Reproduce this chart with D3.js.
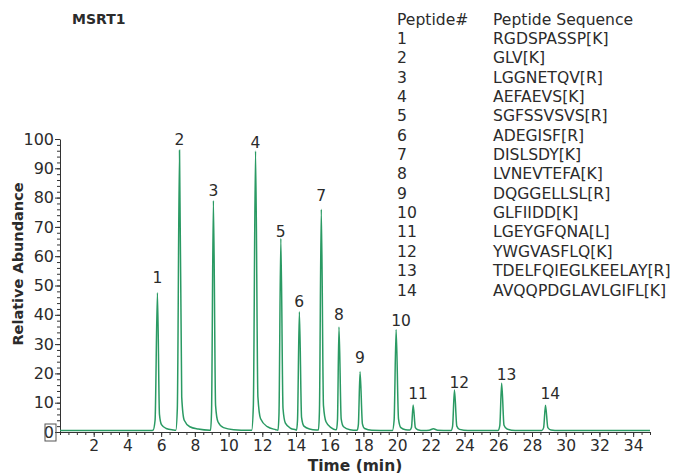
<!DOCTYPE html>
<html lang="en">
<head>
	<meta charset="UTF-8">
	<title>MSRT1</title>
	<script src="https://cdnjs.cloudflare.com/ajax/libs/d3/7.8.5/d3.min.js"></script>
	<style>
		body { margin: 0; background: #fff; }
		text { font-family: "DejaVu Sans", Verdana, sans-serif; fill: #2b2b2b; }
	</style>
</head>
<body>
	<svg id="chart" width="682" height="473"></svg>

	<script type="text/javascript">

	// Peak table (retention time in min, relative abundance at apex)
	var peakNum  = [1, 2, 3, 4, 5, 6, 7, 8, 9, 10, 11, 12, 13, 14];
	var peakTime = [5.78, 7.09, 9.1, 11.6, 13.1, 14.2, 15.5, 16.55, 17.8, 19.94, 20.95, 23.4, 26.2, 28.8];
	var peakHigh = [47.5, 96.2, 79, 95.9, 66, 41, 76, 35.8, 20.6, 35, 9.2, 14.3, 16.6, 9.1];
	var labelAt  = [50.7, 97.8, 80.7, 96.9, 66.7, 42.6, 79, 38.3, 23.4, 36.1, 11.1, 14.9, 17.9, 11.1];

	var sequences = ['RGDSPASSP[K]', 'GLV[K]', 'LGGNETQV[R]', 'AEFAEVS[K]', 'SGFSSVSVS[R]',
		'ADEGISF[R]', 'DISLSDY[K]', 'LVNEVTEFA[K]', 'DQGGELLSL[R]', 'GLFIIDD[K]',
		'LGEYGFQNA[L]', 'YWGVASFLQ[K]', 'TDELFQIEGLKEELAY[R]', 'AVQQPDGLAVLGIFL[K]'];

	// Chromatogram trace: [time, abundance]
	var trace = [
		[0, 0.5], [5.4, 0.5],
		[5.52, 0.6], [5.64, 4], [5.78, 47.5], [5.9, 6], [6.02, 2.5], [6.3, 1.2], [6.7, 0.7],
		[6.87, 0.6], [6.96, 8], [7.09, 96.2], [7.22, 12], [7.37, 4], [7.7, 1.8], [8.2, 1.0], [8.9, 0.6],
		[8.93, 0.6], [8.99, 7], [9.1, 79], [9.23, 9], [9.37, 3.5], [9.7, 1.5], [10.3, 0.8], [11.2, 0.6],
		[11.37, 0.6], [11.47, 9], [11.6, 95.9], [11.74, 12], [11.9, 4.5], [12.3, 1.8], [12.8, 0.8],
		[12.93, 0.6], [12.99, 6], [13.1, 66], [13.23, 8], [13.37, 3], [13.7, 1.2], [14.0, 0.7],
		[14.03, 0.6], [14.09, 4], [14.2, 41], [14.33, 5], [14.47, 2], [14.8, 1], [15.2, 0.7],
		[15.33, 0.7], [15.39, 7], [15.5, 76], [15.63, 9], [15.78, 3.5], [16.1, 1.4], [16.35, 0.8],
		[16.4, 0.8], [16.46, 4], [16.55, 35.8], [16.68, 4.5], [16.82, 1.8], [17.2, 0.8], [17.6, 0.6],
		[17.63, 0.6], [17.7, 2.5], [17.8, 20.6], [17.94, 2.8], [18.07, 1.2], [18.5, 0.6], [19.5, 0.5],
		[19.72, 0.5], [19.82, 4], [19.94, 35], [20.08, 4.5], [20.22, 1.5], [20.5, 0.8],
		[20.76, 0.7], [20.85, 1.5], [20.95, 9.2], [21.08, 1.5], [21.22, 0.8], [21.6, 0.5],
		[21.9, 0.6], [22.15, 1.1], [22.4, 0.6], [23.1, 0.5],
		[23.2, 0.5], [23.29, 2], [23.4, 14.3], [23.54, 2], [23.7, 0.9], [24.2, 0.5], [25.9, 0.5],
		[25.98, 0.5], [26.09, 2.2], [26.2, 16.6], [26.34, 2.3], [26.52, 1.0], [27, 0.5], [28.5, 0.5],
		[28.58, 0.5], [28.69, 1.5], [28.8, 9.1], [28.94, 1.5], [29.12, 0.7], [29.6, 0.5], [35, 0.5]
	];

	var xTicks = d3.range(2, 35, 2);
	var yTicks = d3.range(0, 101, 10);

	var lineColor = '#2a9a63';
	var axisColor = '#333';

	var svg = d3.select('#chart');

	var x = d3.scaleLinear().domain([0, 35]).range([60, 650]);
	var y = d3.scaleLinear().domain([0, 100]).range([432, 139]);

	// minor ticks
	svg.append('g')
		.attr('transform', 'translate(0,432)')
		.call(d3.axisBottom(x).tickValues(d3.range(0, 35.01, 0.5)).tickSize(3).tickFormat('').tickSizeOuter(0))
		.call(function(g) { g.select('.domain').remove(); });
	svg.append('g')
		.attr('transform', 'translate(60,0)')
		.call(d3.axisLeft(y).tickValues(d3.range(0, 101, 2)).tickSize(3).tickFormat('').tickSizeOuter(0))
		.call(function(g) { g.select('.domain').remove(); });

	// major axes
	var xAxis = svg.append('g')
		.attr('transform', 'translate(0,432)')
		.call(d3.axisBottom(x).tickValues(xTicks).tickSize(5).tickPadding(3).tickSizeOuter(0));
	var yAxis = svg.append('g')
		.attr('transform', 'translate(60,0)')
		.call(d3.axisLeft(y).tickValues(yTicks).tickSize(5).tickPadding(1).tickSizeOuter(0));

	svg.selectAll('.tick line').attr('stroke', axisColor);
	svg.selectAll('.domain').attr('stroke', axisColor);
	xAxis.selectAll('text').attr('font-size', 15.5).attr('fill', null);
	yAxis.selectAll('text').attr('font-size', 16).attr('fill', null);
	svg.selectAll('g').attr('font-family', null);

	// box round the zero label
	svg.append('rect')
		.attr('x', 45).attr('y', y(0) - 8).attr('width', 11).attr('height', 17)
		.attr('fill', 'none').attr('stroke', '#555').attr('stroke-width', 1);

	// trace
	var line = d3.line()
		.x(function(d) { return x(d[0]); })
		.y(function(d) { return y(d[1]); })
		.curve(d3.curveMonotoneX);

	svg.append('path')
		.datum(trace)
		.attr('d', line)
		.attr('fill', 'none')
		.attr('stroke', lineColor)
		.attr('stroke-width', 1.5);

	// peak labels
	svg.selectAll('.plabel')
		.data(peakNum)
		.enter()
		.append('text')
		.attr('class', 'plabel')
		.attr('x', function(d, i) { return x(peakTime[i]) - 5; })
		.attr('y', function(d, i) { return y(labelAt[i]); })
		.attr('font-size', 15.5)
		.text(function(d) { return d; });

	// titles
	svg.append('text')
		.attr('x', 72).attr('y', 24)
		.attr('font-size', 14).attr('font-weight', 'bold')
		.text('MSRT1');

	svg.append('text')
		.attr('x', 355).attr('y', 470.5)
		.attr('text-anchor', 'middle')
		.attr('font-size', 15.5).attr('font-weight', 'bold')
		.text('Time (min)');

	svg.append('text')
		.attr('transform', 'translate(23,264) rotate(-90)')
		.attr('text-anchor', 'middle')
		.attr('font-size', 14.5).attr('font-weight', 'bold')
		.text('Relative Abundance');

	// peptide table
	var rowH = 19.36;
	var table = svg.append('g').attr('font-size', 15.6);
	table.append('text').attr('x', 397).attr('y', 24.5).text('Peptide#');
	table.append('text').attr('x', 493).attr('y', 24.5).text('Peptide Sequence');
	table.selectAll('.num')
		.data(peakNum)
		.enter()
		.append('text')
		.attr('x', 397)
		.attr('y', function(d, i) { return 24.5 + (i + 1) * rowH; })
		.text(function(d) { return d; });
	table.selectAll('.seq')
		.data(sequences)
		.enter()
		.append('text')
		.attr('x', 493)
		.attr('y', function(d, i) { return 24.5 + (i + 1) * rowH; })
		.text(function(d) { return d; });

	</script>
</body>
</html>
